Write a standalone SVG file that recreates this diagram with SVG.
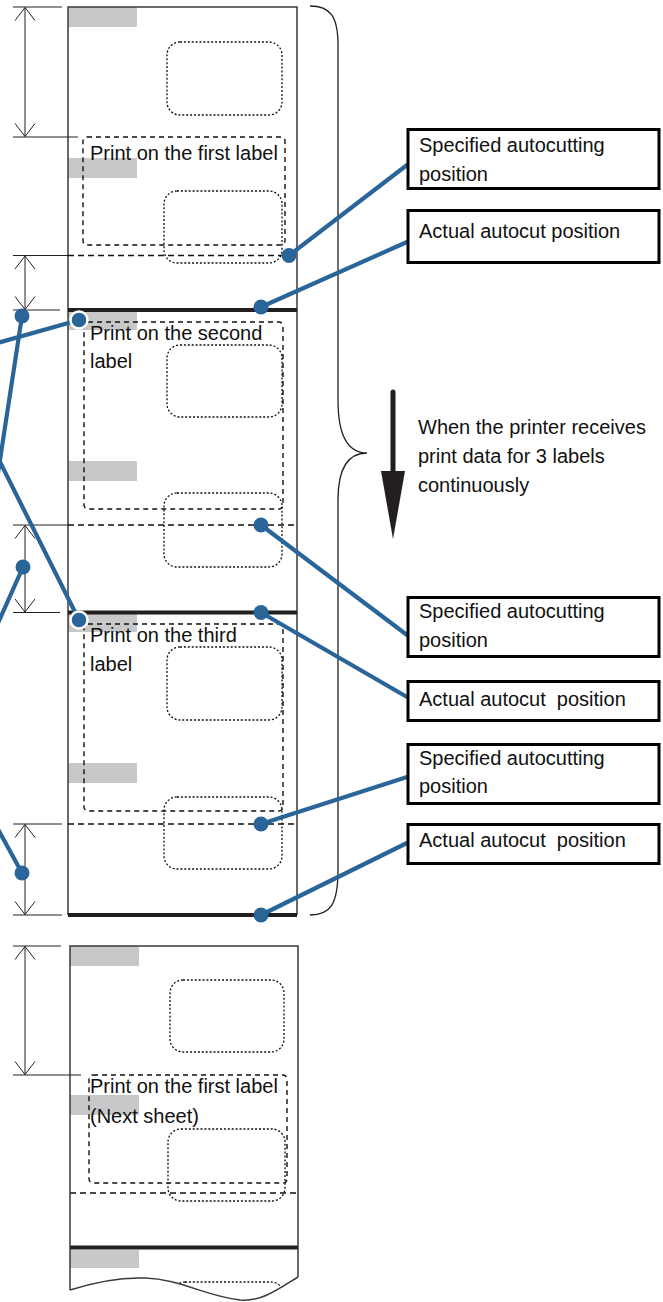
<svg xmlns="http://www.w3.org/2000/svg" width="663" height="1302" viewBox="0 0 663 1302">
<style>
  .edge{fill:none;stroke:#3a3a3a;stroke-width:1.5}
  .cut{fill:none;stroke:#231f20;stroke-width:4}
  .gray{fill:#c7c8ca;stroke:none}
  .dotted{fill:none;stroke:#111;stroke-width:1.3;stroke-dasharray:2 1.9}
  .dbox{fill:none;stroke:#111;stroke-width:1.4;stroke-dasharray:5 4}
  .dline{fill:none;stroke:#111;stroke-width:1.6;stroke-dasharray:6 4}
  .dim{fill:none;stroke:#231f20;stroke-width:1}
  .ext{fill:none;stroke:#231f20;stroke-width:1}
  .t{font-family:"Liberation Sans",Arial,sans-serif;font-size:20px;fill:#111}
  .box{fill:#fff;stroke:#000;stroke-width:3}
  .conn{fill:none;stroke:#2a6599;stroke-width:4.2;stroke-linecap:round}
  .dot{fill:#2a6599}
  .ring{fill:#2a6599;stroke:#fff;stroke-width:2.5}
  .brace{fill:none;stroke:#231f20;stroke-width:1.3}
</style>
<defs>
  <marker id="dimArrow" viewBox="-15 -11 16 22" markerWidth="16" markerHeight="22" refX="0" refY="0" orient="auto-start-reverse" markerUnits="userSpaceOnUse">
    <path d="M-13,-10 L0,0 L-13,10" fill="none" stroke="#231f20" stroke-width="1"/>
  </marker>
  <clipPath id="waveClip">
    <path d="M70,946 L298,946 L298,1277 C280,1288 262,1302 240,1300 C205,1296 180,1279 145,1278 C120,1277 95,1282 70,1290 Z"/>
  </clipPath>
</defs>
<rect x="0" y="0" width="663" height="1302" fill="#fff"/>

<!-- Sheet 1 (three labels) -->
<g id="sheet1">
  <rect class="gray" x="68" y="7" width="69" height="20"/>
  <rect class="gray" x="68" y="158" width="69" height="20"/>
  <rect class="gray" x="68" y="311" width="69" height="19"/>
  <rect class="gray" x="68" y="461" width="69" height="20"/>
  <rect class="gray" x="68" y="614" width="69" height="18"/>
  <rect class="gray" x="68" y="763" width="69" height="20"/>
  <path class="edge" d="M68,915 L68,7 L297,7 L297,915"/>
  <!-- specified cut positions -->
  <line class="dline" x1="68" y1="255.5" x2="297" y2="255.5"/>
  <line class="dline" x1="68" y1="525" x2="297" y2="525"/>
  <line class="dline" x1="68" y1="824" x2="297" y2="824"/>
  <!-- actual cut positions -->
  <line class="cut" x1="68" y1="310" x2="297" y2="310"/>
  <line class="cut" x1="68" y1="612.5" x2="297" y2="612.5"/>
  <line class="cut" x1="68" y1="915" x2="297" y2="915"/>
  <!-- dotted die-cut labels -->
  <rect class="dotted" x="167" y="42" width="115" height="73" rx="13"/>
  <rect class="dotted" x="164" y="191" width="118" height="72" rx="13"/>
  <rect class="dotted" x="167" y="345" width="115" height="72" rx="13"/>
  <rect class="dotted" x="164" y="493" width="118" height="74" rx="13"/>
  <rect class="dotted" x="167" y="647" width="115" height="73" rx="13"/>
  <rect class="dotted" x="164" y="797" width="118" height="72" rx="13"/>
</g>

<g id="label1">
  <rect class="dbox" x="83" y="137" width="202" height="108" rx="4"/>
  <text class="t" x="90" y="160">Print on the first label</text>
</g>
<g id="label2">
  <rect class="dbox" x="84" y="322" width="199" height="187" rx="4"/>
  <text class="t" x="90" y="340">Print on the second</text>
  <text class="t" x="90" y="368">label</text>
</g>
<g id="label3">
  <rect class="dbox" x="84" y="624" width="199" height="187" rx="4"/>
  <text class="t" x="90" y="642">Print on the third</text>
  <text class="t" x="90" y="671">label</text>
</g>

<!-- Sheet 2 (next sheet) -->
<g id="sheet2">
  <rect class="gray" x="70" y="946" width="69" height="20"/>
  <rect class="gray" x="70" y="1095" width="69" height="20"/>
  <rect class="gray" x="70" y="1250" width="69" height="18"/>
  <rect class="dotted" x="170" y="980" width="114" height="72" rx="13"/>
  <rect class="dotted" x="168" y="1129" width="117" height="72" rx="13"/>
  <g clip-path="url(#waveClip)">
    <rect class="dotted" x="172" y="1282" width="112" height="72" rx="13"/>
  </g>
  <line class="dline" x1="70" y1="1193" x2="298" y2="1193"/>
  <line class="cut" x1="70" y1="1247.5" x2="298" y2="1247.5"/>
  <path class="edge" d="M70,1290 L70,946 L298,946 L298,1277"/>
  <path class="edge" d="M70,1290 C95,1282 120,1277 145,1278 C180,1279 205,1296 240,1300 C262,1302 280,1288 298,1277"/>
</g>
<g id="label-next">
  <rect class="dbox" x="89" y="1075" width="198" height="108" rx="4"/>
  <text class="t" x="90" y="1093">Print on the first label</text>
  <text class="t" x="90" y="1123">(Next sheet)</text>
</g>

<!-- Dimensions -->
<g id="dimensions">
  <line class="ext" x1="13" y1="7" x2="62" y2="7"/>
  <line class="ext" x1="13" y1="137" x2="78" y2="137"/>
  <line class="ext" x1="13" y1="255.5" x2="68" y2="255.5"/>
  <line class="ext" x1="13" y1="310" x2="60" y2="310"/>
  <line class="ext" x1="13" y1="525" x2="68" y2="525"/>
  <line class="ext" x1="13" y1="612.5" x2="60" y2="612.5"/>
  <line class="ext" x1="13" y1="824" x2="62" y2="824"/>
  <line class="ext" x1="13" y1="915" x2="62" y2="915"/>
  <line class="ext" x1="13" y1="946" x2="61" y2="946"/>
  <line class="ext" x1="13" y1="1075" x2="81" y2="1075"/>
  <line class="dim" x1="25" y1="7.5" x2="25" y2="136.5" marker-start="url(#dimArrow)" marker-end="url(#dimArrow)"/>
  <line class="dim" x1="25" y1="256" x2="25" y2="309.5" marker-start="url(#dimArrow)" marker-end="url(#dimArrow)"/>
  <line class="dim" x1="25" y1="525.5" x2="25" y2="612" marker-start="url(#dimArrow)" marker-end="url(#dimArrow)"/>
  <line class="dim" x1="25" y1="824.5" x2="25" y2="914.5" marker-start="url(#dimArrow)" marker-end="url(#dimArrow)"/>
  <line class="dim" x1="25" y1="946.5" x2="25" y2="1074.5" marker-start="url(#dimArrow)" marker-end="url(#dimArrow)"/>
</g>

<!-- Brace -->
<g id="brace">
  <path class="brace" d="M310,6 C330,6 338,16 338,45 L338,400 C338,440 350,453 367,453 C350,453 338,465 338,500 L338,870 C338,905 330,915 310,915"/>
</g>

<!-- Flow arrow and caption -->
<g id="flow">
  <line x1="393" y1="392" x2="393" y2="476" stroke="#231f20" stroke-width="5" stroke-linecap="round"/>
  <polygon points="381,471 405,471 393,539" fill="#231f20"/>
  <text class="t" x="418" y="434">When the printer receives</text>
  <text class="t" x="418" y="463">print data for 3 labels</text>
  <text class="t" x="418" y="492">continuously</text>
</g>

<!-- Connectors -->
<g id="connectors">
  <line class="conn" x1="289" y1="255.5" x2="407" y2="165"/>
  <line class="conn" x1="261" y1="307" x2="407" y2="242"/>
  <line class="conn" x1="261" y1="525" x2="407" y2="635"/>
  <line class="conn" x1="261" y1="612.5" x2="407" y2="697"/>
  <line class="conn" x1="261" y1="824" x2="407" y2="777"/>
  <line class="conn" x1="261" y1="915" x2="407" y2="843"/>
  <line class="conn" x1="79" y1="320" x2="-6" y2="344"/>
  <line class="conn" x1="22" y1="316" x2="-4" y2="486"/>
  <line class="conn" x1="79" y1="620" x2="-4" y2="454"/>
  <line class="conn" x1="23" y1="567" x2="-6" y2="632"/>
  <line class="conn" x1="22" y1="873" x2="-6" y2="822"/>
  <circle class="dot" cx="289" cy="255.5" r="7.5"/>
  <circle class="dot" cx="261" cy="307" r="7.5"/>
  <circle class="dot" cx="261" cy="525" r="7.5"/>
  <circle class="dot" cx="261" cy="612.5" r="7.5"/>
  <circle class="dot" cx="261" cy="824" r="7.5"/>
  <circle class="dot" cx="261" cy="915" r="7.5"/>
  <circle class="dot" cx="22" cy="316" r="7.5"/>
  <circle class="dot" cx="23" cy="567" r="7.5"/>
  <circle class="dot" cx="22" cy="873" r="7.5"/>
  <circle class="ring" cx="79" cy="320" r="8.5"/>
  <circle class="ring" cx="79" cy="620" r="8.5"/>
</g>

<!-- Callout boxes -->
<g id="box-spec1">
  <rect class="box" x="408" y="129.5" width="251" height="59"/>
  <text class="t" x="419" y="152">Specified autocutting</text>
  <text class="t" x="419" y="181">position</text>
</g>
<g id="box-actual1">
  <rect class="box" x="408" y="210.5" width="251" height="52"/>
  <text class="t" x="419" y="238">Actual autocut position</text>
</g>
<g id="box-spec2">
  <rect class="box" x="408" y="597.5" width="251" height="59"/>
  <text class="t" x="419" y="618">Specified autocutting</text>
  <text class="t" x="419" y="647">position</text>
</g>
<g id="box-actual2">
  <rect class="box" x="408" y="681.5" width="251" height="39"/>
  <text class="t" x="419" y="706" xml:space="preserve">Actual autocut  position</text>
</g>
<g id="box-spec3">
  <rect class="box" x="408" y="744.5" width="251" height="59"/>
  <text class="t" x="419" y="765">Specified autocutting</text>
  <text class="t" x="419" y="793">position</text>
</g>
<g id="box-actual3">
  <rect class="box" x="408" y="824.5" width="251" height="39"/>
  <text class="t" x="419" y="847" xml:space="preserve">Actual autocut  position</text>
</g>
</svg>
